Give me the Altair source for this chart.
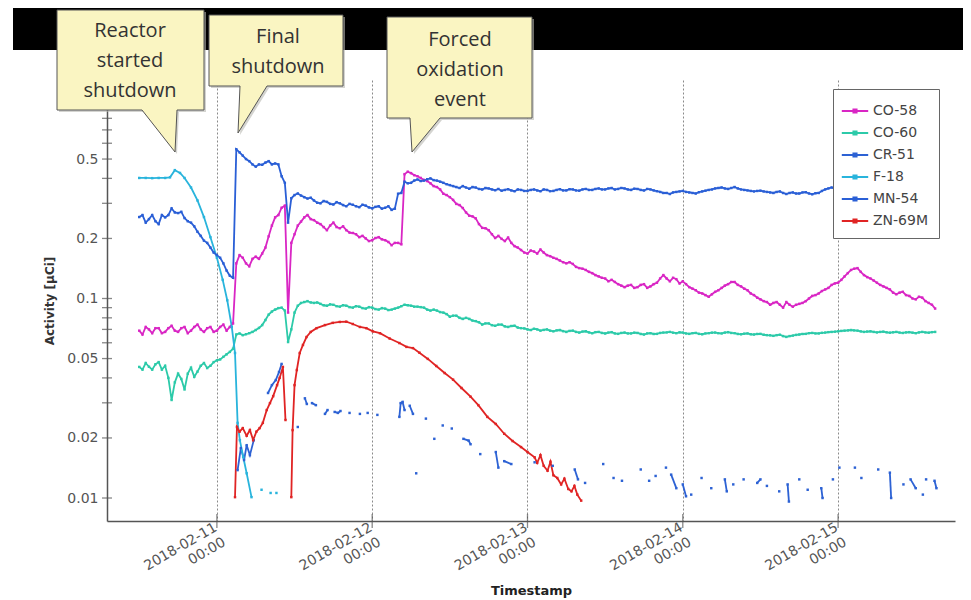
import altair as alt
import pandas as pd

# ---------------- data ----------------
BASE = pd.Timestamp("2018-02-10 00:00:00")   # hours below are counted from this instant

SERIES = ["CO-58", "CO-60", "CR-51", "F-18", "MN-54", "ZN-69M"]
COLORS = ["#d926c4", "#2ccaa9", "#2d62d4", "#29b4dc", "#2a5fd6", "#e02424"]

HOURLY = list(range(12, 136))                 # on the hour, 2018-02-10 12:00 .. 2018-02-15 15:00
HALF = [h + 0.5 for h in HOURLY[:-1]]         # half past the hour, 12:30 .. 134:30

CO58 = [0.069, 0.072, 0.067, 0.071, 0.068, 0.073, 0.068, 0.072, 0.069, 0.074,
        0.068, 0.072, 0.069, 0.074, 0.072, 0.150, 0.160, 0.145, 0.162, 0.168,
        0.205, 0.255, 0.285, 0.085, 0.210, 0.243, 0.262, 0.247, 0.236, 0.220,
        0.240, 0.225, 0.220, 0.213, 0.203, 0.200, 0.196, 0.203, 0.196, 0.185,
        0.190, 0.420, 0.425, 0.410, 0.393, 0.378, 0.362, 0.335, 0.322, 0.298,
        0.284, 0.260, 0.252, 0.226, 0.220, 0.201, 0.199, 0.202, 0.183, 0.175,
        0.168, 0.172, 0.176, 0.165, 0.160, 0.155, 0.150, 0.149, 0.142, 0.139,
        0.134, 0.129, 0.126, 0.124, 0.118, 0.114, 0.117, 0.114, 0.118, 0.115,
        0.120, 0.131, 0.122, 0.125, 0.122, 0.114, 0.110, 0.106, 0.102, 0.108,
        0.113, 0.118, 0.121, 0.115, 0.110, 0.104, 0.099, 0.096, 0.095, 0.093,
        0.096, 0.091, 0.094, 0.097, 0.103, 0.106, 0.111, 0.117, 0.120, 0.129,
        0.139, 0.142, 0.131, 0.126, 0.120, 0.115, 0.111, 0.105, 0.108, 0.103,
        0.099, 0.101, 0.095, 0.089]
CO58_HALF = [0.066, 0.070, 0.071, 0.067, 0.071, 0.069, 0.071, 0.067, 0.072, 0.070,
             0.071, 0.068, 0.072, 0.069, 0.075, 0.165, 0.150, 0.158, 0.158, 0.180,
             0.232, 0.262, 0.292, 0.190, 0.232, 0.255, 0.250, 0.240, 0.228, 0.232,
             0.228, 0.230, 0.214, 0.210, 0.206, 0.194, 0.201, 0.198, 0.192, 0.190,
             0.187, 0.432, 0.415, 0.402, 0.388, 0.366, 0.352, 0.330, 0.312, 0.294,
             0.270, 0.258, 0.236, 0.225, 0.210, 0.206, 0.194, 0.190, 0.180, 0.170,
             0.174, 0.168, 0.170, 0.163, 0.158, 0.152, 0.152, 0.144, 0.141, 0.136,
             0.131, 0.127, 0.122, 0.121, 0.116, 0.116, 0.113, 0.117, 0.113, 0.118,
             0.126, 0.126, 0.127, 0.119, 0.118, 0.112, 0.107, 0.104, 0.105, 0.110,
             0.116, 0.121, 0.117, 0.112, 0.106, 0.101, 0.097, 0.093, 0.096, 0.090,
             0.093, 0.093, 0.095, 0.100, 0.104, 0.109, 0.113, 0.119, 0.124, 0.134,
             0.141, 0.136, 0.128, 0.123, 0.117, 0.113, 0.107, 0.107, 0.104, 0.100,
             0.102, 0.097, 0.093]

MN54 = [0.256, 0.240, 0.262, 0.236, 0.255, 0.283, 0.268, 0.253, 0.240, 0.216,
        0.195, 0.180, 0.165, 0.150, 0.130, 0.560, 0.520, 0.488, 0.458, 0.468,
        0.488, 0.475, 0.410, 0.240, 0.330, 0.328, 0.317, 0.310, 0.300, 0.305,
        0.296, 0.300, 0.290, 0.295, 0.287, 0.292, 0.283, 0.290, 0.285, 0.278,
        0.335, 0.385, 0.380, 0.395, 0.390, 0.400, 0.390, 0.380, 0.370, 0.362,
        0.366, 0.355, 0.360, 0.352, 0.356, 0.349, 0.347, 0.353, 0.345, 0.350,
        0.346, 0.352, 0.345, 0.350, 0.346, 0.353, 0.348, 0.352, 0.347, 0.354,
        0.350, 0.356, 0.352, 0.358, 0.354, 0.356, 0.350, 0.354, 0.348, 0.352,
        0.345, 0.338, 0.334, 0.342, 0.346, 0.340, 0.336, 0.344, 0.350, 0.356,
        0.360, 0.354, 0.362, 0.352, 0.348, 0.344, 0.347, 0.342, 0.338, 0.344,
        0.334, 0.340, 0.336, 0.341, 0.333, 0.338, 0.352, 0.360, 0.356, 0.352,
        0.355, 0.350, 0.353, 0.348, 0.352, 0.349, 0.353, 0.350, 0.347, 0.352,
        0.349, 0.351, 0.348, 0.350]
MN54_HALF = [0.262, 0.250, 0.244, 0.262, 0.262, 0.270, 0.272, 0.244, 0.230, 0.206,
             0.190, 0.170, 0.160, 0.138, 0.127, 0.540, 0.500, 0.470, 0.470, 0.480,
             0.470, 0.470, 0.380, 0.318, 0.336, 0.322, 0.320, 0.302, 0.308, 0.298,
             0.304, 0.294, 0.298, 0.290, 0.295, 0.286, 0.288, 0.282, 0.290, 0.282,
             0.338, 0.378, 0.390, 0.388, 0.396, 0.392, 0.385, 0.374, 0.366, 0.358,
             0.360, 0.362, 0.354, 0.358, 0.352, 0.354, 0.350, 0.348, 0.352, 0.346,
             0.350, 0.348, 0.352, 0.345, 0.350, 0.348, 0.353, 0.348, 0.352, 0.350,
             0.354, 0.352, 0.356, 0.352, 0.358, 0.352, 0.355, 0.350, 0.354, 0.348,
             0.342, 0.338, 0.340, 0.344, 0.342, 0.338, 0.341, 0.347, 0.352, 0.358,
             0.356, 0.358, 0.356, 0.350, 0.346, 0.346, 0.344, 0.340, 0.342, 0.338,
             0.338, 0.336, 0.340, 0.336, 0.337, 0.346, 0.356, 0.355, 0.352, 0.356,
             0.352, 0.351, 0.350, 0.350, 0.351, 0.351, 0.349, 0.351, 0.350, 0.350,
             0.352, 0.349, 0.349]

CO60 = [0.0454, 0.0475, 0.0440, 0.0480, 0.0460, 0.0310, 0.0420, 0.0350, 0.0450, 0.0430,
        0.0475, 0.0460, 0.0490, 0.0510, 0.0540, 0.0660, 0.0655, 0.0670, 0.0695, 0.0736,
        0.0830, 0.0880, 0.0900, 0.0605, 0.0850, 0.0950, 0.0970, 0.0950, 0.0940, 0.0920,
        0.0930, 0.0910, 0.0920, 0.0900, 0.0910, 0.0890, 0.0900, 0.0880, 0.0890, 0.0880,
        0.0900, 0.0930, 0.0920, 0.0910, 0.0900, 0.0870, 0.0870, 0.0850, 0.0810, 0.0820,
        0.0790, 0.0790, 0.0770, 0.0740, 0.0750, 0.0730, 0.0740, 0.0720, 0.0730, 0.0710,
        0.0700, 0.0705, 0.0690, 0.0700, 0.0685, 0.0695, 0.0680, 0.0690, 0.0675, 0.0685,
        0.0670, 0.0680, 0.0668, 0.0678, 0.0665, 0.0675, 0.0668, 0.0672, 0.0660, 0.0670,
        0.0665, 0.0675, 0.0680, 0.0670, 0.0675, 0.0665, 0.0672, 0.0662, 0.0670, 0.0675,
        0.0668, 0.0678, 0.0670, 0.0662, 0.0668, 0.0660, 0.0665, 0.0655, 0.0650, 0.0658,
        0.0642, 0.0652, 0.0660, 0.0665, 0.0672, 0.0668, 0.0675, 0.0680, 0.0685, 0.0690,
        0.0695, 0.0690, 0.0680, 0.0685, 0.0676, 0.0682, 0.0674, 0.0680, 0.0672, 0.0678,
        0.0670, 0.0680, 0.0674, 0.0680]
CO60_HALF = [0.0440, 0.0455, 0.0468, 0.0440, 0.0400, 0.0380, 0.0395, 0.0420, 0.0405, 0.0460,
             0.0448, 0.0480, 0.0495, 0.0525, 0.0560, 0.0668, 0.0662, 0.0680, 0.0712, 0.0780,
             0.0860, 0.0895, 0.0870, 0.0700, 0.0920, 0.0960, 0.0955, 0.0955, 0.0925, 0.0935,
             0.0915, 0.0925, 0.0905, 0.0915, 0.0895, 0.0905, 0.0885, 0.0895, 0.0875, 0.0890,
             0.0915, 0.0925, 0.0910, 0.0905, 0.0880, 0.0880, 0.0855, 0.0835, 0.0820, 0.0800,
             0.0800, 0.0775, 0.0760, 0.0750, 0.0735, 0.0740, 0.0725, 0.0728, 0.0715, 0.0708,
             0.0695, 0.0700, 0.0696, 0.0690, 0.0692, 0.0686, 0.0688, 0.0680, 0.0683, 0.0676,
             0.0678, 0.0672, 0.0675, 0.0668, 0.0672, 0.0668, 0.0674, 0.0664, 0.0668, 0.0664,
             0.0672, 0.0676, 0.0674, 0.0677, 0.0668, 0.0670, 0.0665, 0.0668, 0.0674, 0.0670,
             0.0675, 0.0672, 0.0664, 0.0666, 0.0662, 0.0664, 0.0658, 0.0654, 0.0655, 0.0648,
             0.0648, 0.0657, 0.0664, 0.0670, 0.0668, 0.0673, 0.0678, 0.0682, 0.0688, 0.0692,
             0.0692, 0.0684, 0.0683, 0.0680, 0.0680, 0.0677, 0.0677, 0.0675, 0.0676, 0.0674,
             0.0676, 0.0676, 0.0678]

F18_H = [12, 13, 14, 15, 16, 16.75, 17.5, 18.3, 19, 20, 21, 22, 23, 24, 24.9, 25.6,
         26.3, 26.8, 27.2, 27.55, 28.06, 28.6, 29.35, None, 30.9, None, 32.3, None, 33.2]
F18_V = [0.402, 0.402, 0.401, 0.402, 0.402, 0.405, 0.440, 0.426, 0.402, 0.360, 0.310,
         0.256, 0.203, 0.160, 0.124, 0.098, 0.072, 0.0533, 0.0238, 0.0195, 0.0161,
         0.0133, 0.0101, None, 0.0110, None, 0.0106, None, 0.0106]

ZN69M_H = [26.8, 27.1, 27.5, 28.0, 28.6, 29.1, 29.6, 30.1, 30.6, 31.1,
           31.7, 32.2, 32.7, 33.3, 33.7, 34.2, 34.6, None, 35.5, 35.7,
           36.0, 36.35, 36.8, 37.3, 37.85, 38.5, 39.4, 40.7, 41.9, 43.0,
           44.0, 45.0, 46.1, 47.1, 48.1, 49.2, 50.7, 52.2, 53.3, 54.3,
           55.3, 56.6, 57.9, 59.2, 60.5, 61.8, 63.2, 64.4, 65.8, 67.1,
           68.4, 69.7, 71.0, 72.0, 73.1, 73.5, 74.0, 74.5, 75.1, 75.55,
           76.0, 76.6, 77.2, 77.7, 78.3, 78.8, 79.25, 79.7, 80.3]
ZN69M_V = [0.0101, 0.0227, 0.0215, 0.0224, 0.0205, 0.0219, 0.0195, 0.0215, 0.0224, 0.0238,
           0.0276, 0.0299, 0.0324, 0.0368, 0.0400, 0.0454, 0.0246, None, 0.0101, 0.0219,
           0.0368, 0.0438, 0.0533, 0.0585, 0.0641, 0.0680, 0.0710, 0.0736, 0.0755, 0.0763,
           0.0765, 0.0745, 0.0720, 0.0710, 0.0684, 0.0670, 0.0630, 0.0598, 0.0572, 0.0564,
           0.0535, 0.0498, 0.0459, 0.0423, 0.0392, 0.0356, 0.0322, 0.0292, 0.0255, 0.0235,
           0.0210, 0.0193, 0.0180, 0.0170, 0.0160, 0.0150, 0.0164, 0.0145, 0.0137, 0.0152,
           0.0130, 0.0126, 0.0117, 0.0125, 0.0111, 0.0108, 0.0115, 0.0104, 0.0097]

# None marks a gap in the record
CR51_H = [27.2, 27.7, 28.2, 28.6, 29.1, 29.7, None,
          31.9, 32.5, 33.1, 33.6, 34.0, None, 36.5, None,
          37.6, 37.9, None, 38.7, 39.3, None, 40.7, 41.1, None,
          42.2, 42.7, 43.1, None, 44.5, None, 46.1, None, 47.3, None, 48.8, None,
          52.2, 52.4, 52.7, 53.0, None, 53.8, 54.3, None, 54.8, None,
          56.3, None, 57.6, None, 58.9, None, 60.3, None, 62.1, 62.9, 63.2, None,
          64.7, None, 67.1, 67.5, None, 68.4, 69.5, None, 73.1, None, 75.9, None,
          79.3, 79.8, None, 80.9, None, 83.7, None, 85.3, None, 86.6, None,
          89.5, None, 90.8, None, 91.8, None, 93.4, None, 94.2, 95.0, None,
          96.0, 96.5, None, 97.3, None, 98.9, None, 100.4, None, 102.5, 102.8, None,
          103.8, None, 105.4, None, 107.5, 108.0, None, 109.0, None, 110.9, None,
          112.2, 112.4, None, 114.0, None, 115.3, None, 117.4, 117.6, None,
          119.2, None, 120.2, None, 122.6, None, 123.6, None, 126.2, None,
          128.0, 128.2, None, 130.1, None, 131.2, 132.0, None, 133.1, None,
          133.6, None, 134.9, 135.2]
CR51_V = [0.0138, 0.0178, 0.0155, 0.0184, 0.0164, 0.0195, None,
          0.0336, 0.0368, 0.0390, 0.0428, 0.0470, None, 0.0227, None,
          0.0316, 0.0296, None, 0.0299, 0.0292, None, 0.0264, 0.0276, None,
          0.0270, 0.0267, 0.0273, None, 0.0267, None, 0.0264, None, 0.0267, None, 0.0261, None,
          0.0255, 0.0299, 0.0303, 0.0276, None, 0.0290, 0.0264, None, 0.0133, None,
          0.0250, None, 0.0198, None, 0.0231, None, 0.0223, None, 0.0198, 0.0194, 0.0186, None,
          0.0166, None, 0.0170, 0.0142, None, 0.0153, 0.0148, None, 0.0151, None, 0.0145, None,
          0.0139, 0.0124, None, 0.0119, None, 0.0148, None, 0.0126, None, 0.0122, None,
          0.0139, None, 0.0122, None, 0.0129, None, 0.0142, None, 0.0131, 0.0112, None,
          0.0117, 0.0102, None, 0.0104, None, 0.0126, None, 0.0112, None, 0.0124, 0.0108, None,
          0.0117, None, 0.0124, None, 0.0119, 0.0124, None, 0.0115, None, 0.0108, None,
          0.0117, 0.0096, None, 0.0124, None, 0.0110, None, 0.0112, 0.0100, None,
          0.0124, None, 0.0142, None, 0.0142, None, 0.0126, None, 0.0139, None,
          0.0134, 0.0100, None, 0.0117, None, 0.0124, 0.0112, None, 0.0104, None,
          0.0124, None, 0.0122, 0.0112]

Y_LABELS = [0.01, 0.02, 0.05, 0.1, 0.2, 0.5]
Y_TICKS = [0.01, 0.02, 0.03, 0.04, 0.05, 0.06, 0.07, 0.08, 0.09, 0.1,
           0.2, 0.3, 0.4, 0.5, 0.6, 0.7, 0.8, 0.9]
X_DAYS = [11, 12, 13, 14, 15]

CALLOUTS = ["Reactor\nstarted\nshutdown", "Final\nshutdown", "Forced\noxidation\nevent"]

# ---------------- tables ----------------
rows = []


def add(name, hours, values):
    seg = 0
    for h, v in zip(hours, values):
        if v is None:
            seg += 1
            continue
        rows.append({"series": name, "time": BASE + pd.Timedelta(hours=h),
                     "value": v, "seg": f"{name}-{seg}"})


def merged(h1, v1, h2, v2):
    pairs = sorted(zip(h1 + h2, v1 + v2))
    return [p[0] for p in pairs], [p[1] for p in pairs]


add("CO-58", *merged(HOURLY, CO58, HALF, CO58_HALF))
add("CO-60", *merged(HOURLY, CO60, HALF, CO60_HALF))
add("CR-51", CR51_H, CR51_V)
add("F-18", F18_H, F18_V)
add("MN-54", *merged(HOURLY, MN54, HALF, MN54_HALF))
add("ZN-69M", ZN69M_H, ZN69M_V)
df = pd.DataFrame(rows)

ytick_df = pd.DataFrame({"value": Y_TICKS})
xtick_df = pd.DataFrame({"time": [pd.Timestamp(2018, 2, d) for d in X_DAYS]})
one = pd.DataFrame({"k": [0]})

# ---------------- scales / encodings ----------------
x_scale = alt.Scale(domain=[alt.DateTime(year=2018, month=2, date=10, hours=7, minutes=1),
                            alt.DateTime(year=2018, month=2, date=15, hours=18, minutes=4)])
y_scale = alt.Scale(type="log", domain=[0.00767, 1.245], nice=False)

x_axis = alt.Axis(
    values=[alt.DateTime(year=2018, month=2, date=d) for d in X_DAYS],
    labelExpr="[timeFormat(datum.value, '%Y-%m-%d'), timeFormat(datum.value, '%H:%M')]",
    labelAngle=-30, labelAlign="right", labelBaseline="top",
    labelFont="DejaVu Sans", labelFontSize=14, labelLineHeight=17, labelColor="#555",
    labelPadding=-1, labelOffset=-5, labelOverlap=False, labelFlush=False,
    ticks=False, domainColor="#555", domainWidth=1.5,
    grid=True, gridDash=[2, 2], gridColor="#8a8a8a", gridWidth=1,
    title="Timestamp", titleFont="DejaVu Sans", titleFontSize=13, titleFontWeight="bold",
    titleColor="#222", titleY=63, titleBaseline="top",
)
y_axis = alt.Axis(
    values=Y_LABELS, labelExpr="format(datum.value, '.2~f')",
    ticks=False, labelPadding=9, labelFont="DejaVu Sans", labelFontSize=14, labelColor="#555",
    domainColor="#555", domainWidth=1.5, grid=False,
    title="Activity [µCi]", titleFont="DejaVu Sans", titleFontSize=12,
    titleFontWeight="bold", titleColor="#333", titlePadding=10,
)

X = alt.X("time:T", scale=x_scale, axis=x_axis)
Y = alt.Y("value:Q", scale=y_scale, axis=y_axis)

color_scale = alt.Scale(domain=SERIES, range=COLORS)
legend = alt.Legend(
    title=None, orient="none", legendX=726, legendY=9,
    symbolType="M-1.2,0L1.2,0M-0.14,-0.14L0.14,-0.14L0.14,0.14L-0.14,0.14Z",
    symbolSize=484, symbolStrokeWidth=2,
    labelFont="DejaVu Sans", labelFontSize=14, labelColor="#444", labelOffset=6,
    strokeColor="#666", fillColor="white", padding=10, rowPadding=3, cornerRadius=0,
)
COLOR = alt.Color("series:N", scale=color_scale, legend=legend)

lines = alt.Chart(df).mark_line(strokeWidth=1.8).encode(
    x=X, y=Y, color=COLOR, detail="seg:N", order="time:T",
)
points = alt.Chart(df).mark_point(filled=True, shape="square", size=6, opacity=1).encode(
    x=X, y=Y, color=COLOR,
)
yticks = alt.Chart(ytick_df).mark_tick(orient="horizontal", size=10, thickness=1.3, color="#555").encode(
    y=Y, x=alt.value(0),
)
xticks = alt.Chart(xtick_df).mark_tick(orient="vertical", size=14, thickness=1.3, color="#555").encode(
    x=X, y=alt.value(441),
)

# ---------------- slide decorations (pixel layout, plot-relative) ----------------
bar = alt.Chart(one).mark_rect(color="black").encode(
    x=alt.value(-94), x2=alt.value(856), y=alt.value(-73), y2=alt.value(-30))

BOX_PATHS = [
    "M-50,-70L97,-70L97,30L70,30L68,72L35,30L-50,30Z",
    "M102,-65L236,-65L236,6L160,6L131,53L133,6L102,6Z",
    "M280,-63L425,-63L425,38L333,38L305,72L303,38L280,38Z",
]
TEXT_POS = [(23, -49), (171, -43), (353, -40)]

deco = [bar]
for path in BOX_PATHS:
    deco.append(alt.Chart(one).mark_point(shape=path, size=4, filled=True, fill="#b8b8b0",
                                          strokeOpacity=0, opacity=0.6).encode(
        x=alt.value(2), y=alt.value(2)))
    deco.append(alt.Chart(one).mark_point(shape=path, size=4, filled=True, fill="#faf5c2",
                                          stroke="#555", strokeWidth=1, opacity=1).encode(
        x=alt.value(0), y=alt.value(0)))
for txt, (tx, ty) in zip(CALLOUTS, TEXT_POS):
    deco.append(alt.Chart(one).mark_text(text=txt, lineBreak="\n", font="Open Sans", fontSize=20,
                                         lineHeight=30, color="#333", align="center",
                                         baseline="middle").encode(
        x=alt.value(tx), y=alt.value(ty)))

chart = alt.layer(lines, points, yticks, xticks, *deco).properties(
    width=848, height=441,
    padding={"left": 99, "top": 72, "right": 8, "bottom": 80},
    autosize=alt.AutoSizeParams(type="none"),
    background="white",
).configure_view(stroke=None)

chart.save("out.html", embed_options={"renderer": "svg", "actions": False})
